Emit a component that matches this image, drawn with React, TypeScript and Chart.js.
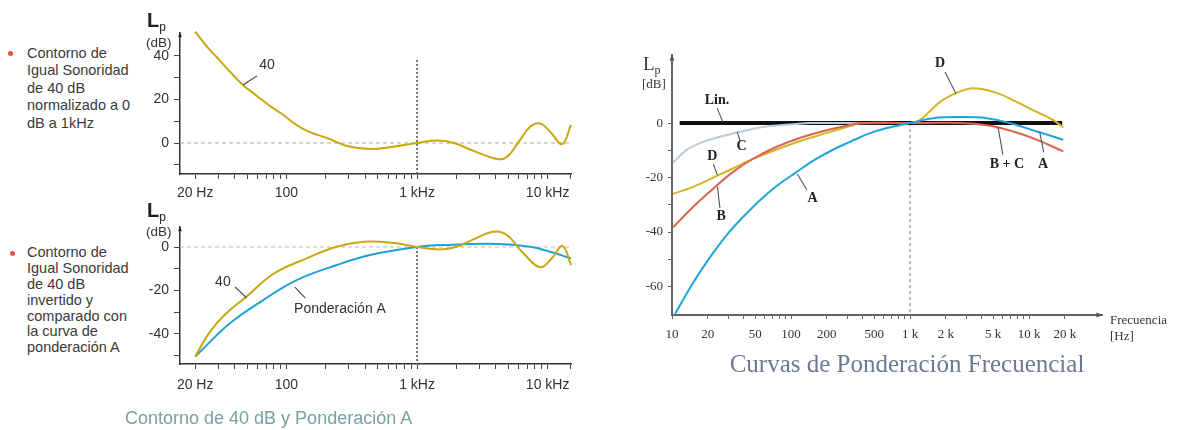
import React, { useEffect, useRef } from 'react';
import { Chart, registerables } from 'chart.js';

Chart.register(...registerables);

// ---------------- Data: top-left (40 dB contour normalised to 0 dB at 1 kHz) ----------------
const contourFreq = [20, 24.6, 29.3, 36.9, 46.4, 59.4, 74.8, 89.2, 134, 216, 291, 436, 655, 1000, 1423, 1888, 2686, 4100, 4894, 6151, 7345, 8765, 10450, 12910, 15100];
const contourDb = [51.2, 44.3, 39.4, 32.8, 26.7, 21.6, 17.0, 14.0, 6.5, 1.7, -1.4, -2.8, -1.7, 0, 1.1, 0.1, -3.5, -7.4, -6.3, 1.4, 7.5, 9.0, 5.2, -0.5, 8.3];

// ---------------- Data: bottom-left (inverted contour vs A weighting) ----------------
const invFreq = [20, 24.5, 29.2, 36.9, 49.5, 79.2, 143, 243, 412, 699, 1000, 1500, 2014, 2700, 3844, 4866, 6528, 8765, 10770, 12980, 15100];
const invDb = [-50.4, -41.2, -35.1, -29.0, -22.8, -12.4, -5.2, 0.1, 2.5, 1.7, 0, -1.1, 0.1, 3.5, 7.0, 5.5, -2.9, -9.3, -5.2, 0.5, -8.3];
const aLeftFreq = [20, 36.9, 66.4, 119.7, 243, 436, 1000, 1590, 4100, 7345, 10450, 15100];
const aLeftDb = [-50.4, -35.1, -24.4, -15.2, -8.3, -3.7, 0, 0.9, 1.4, 0.1, -2.2, -5.2];

// ---------------- Data: right chart (weighting curves) ----------------
const aFreq = [10.6, 15.1, 20.9, 28.8, 39.7, 54.9, 75.8, 112, 154, 227, 313, 461, 641, 1000, 1570, 2630, 4410, 6900, 10900, 19400];
const aDb = [-70, -58.5, -49.2, -41.1, -34.4, -28.3, -23.1, -17.9, -13.8, -9.7, -6.9, -3.7, -1.8, 0, 1.8, 2.2, 1.8, 0, -2.7, -6.1];
const bFreq = [10.2, 15.1, 22.3, 32.6, 48.4, 75.8, 127, 200, 313, 380, 1000, 2630, 4410, 6900, 10900, 19400];
const bDb = [-38.3, -30.7, -24, -17.9, -13, -8.7, -5, -2.6, -0.7, -0.1, 0, 0, -0.8, -2.7, -5.6, -10.4];
const dFreq = [10.2, 15.1, 23.8, 37.3, 45.3, 75.8, 127, 200, 313, 380, 641, 1000, 1210, 1790, 2470, 3400, 5350, 7870, 11600, 16000, 19400];
const dDb = [-26, -23.4, -19.4, -15.4, -13.6, -9.7, -6.2, -3.6, -1.1, -0.1, 0.1, 0, 1.1, 7.8, 11.1, 12.8, 11.1, 7.8, 4.1, 1.1, -1.6];
const cFreq = [10.2, 13.2, 18.3, 28.8, 42.4, 66.6, 105, 145, 400, 1000];
const cDb = [-14.6, -9.9, -6.9, -4.4, -2.6, -1.1, -0.4, 0, 0, 0];
const linFreq = [11.6, 19000];
const linDb = [0, 0];

// reference lines
const refFreq1k = [1000, 1000];

// ---------------- Ticks ----------------
const leftXTicks = [20, 30, 40, 50, 60, 70, 80, 90, 100, 200, 300, 400, 500, 600, 700, 800, 900, 1000, 2000, 3000, 4000, 5000, 6000, 7000, 8000, 9000, 10000, 15000];
const leftXLabelVals = [20, 100, 1000, 10000];
const leftXLabelText = ['20 Hz', '100', '1 kHz', '10 kHz'];
const topYTicks = [-10, 0, 10, 20, 30, 40];
const topYLabels = [0, 20, 40];
const botYTicks = [-50, -40, -30, -20, -10, 0];
const botYLabels = [-40, -20, 0];
const rightXTicks = [10, 20, 30, 40, 50, 60, 70, 80, 90, 100, 200, 300, 400, 500, 600, 700, 800, 900, 1000, 2000, 3000, 4000, 5000, 6000, 7000, 8000, 9000, 10000, 20000];
const rightXLabelVals = [10, 20, 50, 100, 200, 500, 1000, 2000, 5000, 10000, 20000];
const rightXLabelText = ['10', '20', '50', '100', '200', '500', '1 k', '2 k', '5 k', '10 k', '20 k'];
const rightYTicks = [-60, -50, -40, -30, -20, -10, 0];
const rightYLabels = [-60, -40, -20, 0];

// ---------------- Annotations (data coordinates) ----------------
const topNotes = [{ text: '40', f: 70.9, db: 35.9, from: [59.4, 30.8], to: [46.4, 26.7] }];
const botNotes = [
  { text: '40', f: 32.6, db: -16.1, from: [40.4, -18.4], to: [49.6, -23.4] },
  { text: 'Ponderación A', f: 257, db: -28.5, from: [139, -23.4], to: [116, -18.4] },
];
const rightNotes = [
  { text: 'Lin.', f: 23.9, db: 8.4, from: [23.9, 5.5], to: [26.8, 0.4] },
  { text: 'C', f: 38.5, db: -8.7, from: [37.2, -6.2], to: [35.3, -3.2] },
  { text: 'D', f: 21.8, db: -12.4, from: [22.3, -15.2], to: [24.1, -19.1] },
  { text: 'B', f: 25.9, db: -34.1, from: [25.3, -31.3], to: [24.1, -23.4] },
  { text: 'A', f: 152, db: -27.6, from: [136, -24.6], to: [113, -18.7] },
  { text: 'D', f: 1790, db: 22.1, from: [1970, 18.8], to: [2430, 10.9] },
  { text: 'B + C', f: 6530, db: -15, from: [6040, -11.7], to: [5490, -1.5] },
  { text: 'A', f: 13100, db: -15, from: [13300, -10.8], to: [12300, -3.2] },
];

const SANS = 'Arial, "Liberation Sans", sans-serif';
const SERIF = '"Liberation Serif", "Times New Roman", serif';

const pts = (fs: number[], ds: number[]) => fs.map((f, i) => ({ x: f, y: ds[i] }));

const notesPlugin = {
  id: 'notes',
  afterDatasetsDraw(chart: any, _a: any, opts: any) {
    const { ctx, chartArea: ca, scales } = chart;
    const xs = scales.x;
    const ys = scales.y;
    ctx.save();
    ctx.fillStyle = opts.axisColor;
    const s = opts.arrowSize;
    if (opts.arrowY) {
      ctx.beginPath();
      ctx.moveTo(ca.left, ca.top - 1);
      ctx.lineTo(ca.left - s * 0.6, ca.top + s * 1.4);
      ctx.lineTo(ca.left + s * 0.6, ca.top + s * 1.4);
      ctx.closePath();
      ctx.fill();
    }
    if (opts.arrowX) {
      ctx.beginPath();
      ctx.moveTo(ca.right + 1, ca.bottom);
      ctx.lineTo(ca.right - s * 1.4, ca.bottom - s * 0.6);
      ctx.lineTo(ca.right - s * 1.4, ca.bottom + s * 0.6);
      ctx.closePath();
      ctx.fill();
    }
    for (const n of opts.items || []) {
      ctx.strokeStyle = opts.leaderColor;
      ctx.lineWidth = 1.1;
      ctx.beginPath();
      ctx.moveTo(xs.getPixelForValue(n.from[0]), ys.getPixelForValue(n.from[1]));
      ctx.lineTo(xs.getPixelForValue(n.to[0]), ys.getPixelForValue(n.to[1]));
      ctx.stroke();
      ctx.font = opts.font;
      ctx.fillStyle = opts.textColor;
      ctx.textAlign = 'center';
      ctx.textBaseline = 'middle';
      ctx.fillText(n.text, xs.getPixelForValue(n.f), ys.getPixelForValue(n.db));
    }
    ctx.restore();
  },
};

function labelFor(vals: number[], texts: string[]) {
  return (v: any) => {
    const i = vals.indexOf(Number(v));
    return i >= 0 ? texts[i] : '';
  };
}

function styleLines(datasets: any[]) {
  datasets.forEach((d) => {
    d.pointRadius = 0;
    d.fill = false;
    if (d.tension === undefined) d.tension = 0.4;
  });
}

function leftConfig(kind: 'top' | 'bot'): any {
  const isTop = kind === 'top';
  const datasets: any[] = isTop
    ? [
        { data: pts(contourFreq, contourDb), borderColor: '#c9a70e', borderWidth: 2, clip: false },
        { data: pts(refFreq1k, [38.2, -14.25]), borderColor: '#555', borderWidth: 1.6, borderDash: [2, 2], tension: 0 },
        { data: pts([15.3, 15100], [0, 0]), borderColor: '#aaa', borderWidth: 1, borderDash: [4, 3], tension: 0 },
      ]
    : [
        { data: pts(invFreq, invDb), borderColor: '#c9a70e', borderWidth: 2, clip: false },
        { data: pts(aLeftFreq, aLeftDb), borderColor: '#1fa0d8', borderWidth: 2, clip: false },
        { data: pts(refFreq1k, [0, -53.8]), borderColor: '#555', borderWidth: 1.6, borderDash: [2, 2], tension: 0 },
        { data: pts([15.3, 15100], [0, 0]), borderColor: '#bbb', borderWidth: 1, borderDash: [4, 3], tension: 0 },
      ];
  styleLines(datasets);
  const yTicks = isTop ? topYTicks : botYTicks;
  const yLabels = isTop ? topYLabels : botYLabels;
  return {
    type: 'line',
    data: { datasets },
    plugins: [notesPlugin],
    options: {
      animation: false,
      responsive: false,
      maintainAspectRatio: false,
      layout: { padding: { top: isTop ? 33 : 37, right: 19, left: 0, bottom: 0 } },
      plugins: {
        legend: { display: false },
        tooltip: { enabled: false },
        notes: {
          items: isTop ? topNotes : botNotes,
          font: `14px ${SANS}`,
          textColor: '#333',
          leaderColor: '#444',
          axisColor: '#222',
          arrowSize: 3,
          arrowY: true,
          arrowX: false,
        },
      },
      scales: {
        x: {
          type: 'logarithmic',
          min: 15.3,
          max: 15100,
          afterBuildTicks: (s: any) => {
            s.ticks = leftXTicks.map((v) => ({ value: v }));
          },
          afterFit: (s: any) => {
            s.height = isTop ? 26 : 36;
          },
          ticks: {
            autoSkip: false,
            maxRotation: 0,
            minRotation: 0,
            padding: isTop ? 6 : 8,
            color: '#333',
            font: { family: SANS, size: 14 },
            callback: labelFor(leftXLabelVals, leftXLabelText),
          },
          grid: { drawOnChartArea: false, drawTicks: true, tickLength: 5, tickColor: '#444', tickWidth: 1 },
          border: { display: true, color: '#333', width: 1.5 },
        },
        y: {
          type: 'linear',
          min: isTop ? -14.25 : -53.8,
          max: isTop ? 50.57 : 9.2,
          afterBuildTicks: (s: any) => {
            s.ticks = yTicks.map((v) => ({ value: v }));
          },
          afterFit: (s: any) => {
            s.width = 50;
          },
          ticks: {
            padding: 5,
            color: '#333',
            font: { family: SANS, size: 14 },
            callback: (v: any) => (yLabels.includes(Number(v)) ? String(v) : ''),
          },
          grid: { drawOnChartArea: false, drawTicks: true, tickLength: 6, tickColor: '#444', tickWidth: 1 },
          border: { display: true, color: '#333', width: 1.5 },
        },
      },
    },
  };
}

function rightConfig(): any {
  const datasets: any[] = [
    { data: pts(aFreq, aDb), borderColor: '#21a3db', borderWidth: 2 },
    { data: pts(bFreq, bDb), borderColor: '#d9654f', borderWidth: 2 },
    { data: pts(dFreq, dDb), borderColor: '#d2b526', borderWidth: 2 },
    { data: pts(cFreq, cDb), borderColor: '#bccbd6', borderWidth: 2 },
    { data: pts(linFreq, linDb), borderColor: '#111', borderWidth: 4, tension: 0 },
    { data: pts(refFreq1k, [0, -70.46]), borderColor: '#888', borderWidth: 1.2, borderDash: [3, 3], tension: 0 },
  ];
  styleLines(datasets);
  return {
    type: 'line',
    data: { datasets },
    plugins: [notesPlugin],
    options: {
      animation: false,
      responsive: false,
      maintainAspectRatio: false,
      layout: { padding: { top: 15, right: 77, left: 0, bottom: 0 } },
      plugins: {
        legend: { display: false },
        tooltip: { enabled: false },
        notes: {
          items: rightNotes,
          font: `bold 14px ${SERIF}`,
          textColor: '#222',
          leaderColor: '#555',
          axisColor: '#555',
          arrowSize: 4,
          arrowY: true,
          arrowX: true,
        },
      },
      scales: {
        x: {
          type: 'logarithmic',
          min: 10,
          max: 41060,
          afterBuildTicks: (s: any) => {
            s.ticks = rightXTicks.map((v) => ({ value: v }));
          },
          afterFit: (s: any) => {
            s.height = 35;
          },
          ticks: {
            autoSkip: false,
            maxRotation: 0,
            minRotation: 0,
            padding: 8,
            color: '#333',
            font: { family: SERIF, size: 13 },
            callback: labelFor(rightXLabelVals, rightXLabelText),
          },
          grid: { drawOnChartArea: false, drawTicks: true, tickLength: 4, tickColor: '#666', tickWidth: 1 },
          border: { display: true, color: '#666', width: 2 },
        },
        y: {
          type: 'linear',
          min: -70.46,
          max: 25,
          afterBuildTicks: (s: any) => {
            s.ticks = rightYTicks.map((v) => ({ value: v }));
          },
          afterFit: (s: any) => {
            s.width = 52;
          },
          ticks: {
            padding: 5,
            color: '#333',
            font: { family: SERIF, size: 13 },
            callback: (v: any) => (rightYLabels.includes(Number(v)) ? String(v) : ''),
          },
          grid: { drawOnChartArea: false, drawTicks: true, tickLength: 4, tickColor: '#666', tickWidth: 1 },
          border: { display: true, color: '#666', width: 2 },
        },
      },
    },
  };
}

function ChartCanvas({ make, left, top, width, height }: any) {
  const ref = useRef<HTMLCanvasElement | null>(null);
  useEffect(() => {
    const chart = new Chart(ref.current as HTMLCanvasElement, make());
    return () => chart.destroy();
  }, []);
  return (
    <canvas
      ref={ref}
      width={width}
      height={height}
      style={{ position: 'absolute', left, top, width, height }}
    />
  );
}

const abs = (left: number, top: number, extra: any = {}) => ({ position: 'absolute' as const, left, top, ...extra });

export default function App() {
  const bulletText = { fontFamily: SANS, fontSize: 14.5, color: '#3a3a3a', whiteSpace: 'nowrap' as const };
  const dot = { width: 5, height: 5, borderRadius: '50%', background: '#e0553b' };
  return (
    <div style={{ position: 'absolute', left: 0, top: 0, width: 1179, height: 430, background: '#fff', overflow: 'hidden' }}>
      {/* bullets */}
      <div style={abs(8, 51, dot)} />
      <div style={abs(27, 44.5, { ...bulletText, lineHeight: '17.5px' })}>
        Contorno de<br />Igual Sonoridad<br />de 40 dB<br />normalizado a 0<br />dB a 1kHz
      </div>
      <div style={abs(10, 251, dot)} />
      <div style={abs(27, 245.4, { ...bulletText, lineHeight: '15.8px' })}>
        Contorno de<br />Igual Sonoridad<br />de 40 dB<br />invertido y<br />comparado con<br />la curva de<br />ponderación A
      </div>

      {/* left charts */}
      <ChartCanvas make={() => leftConfig('top')} left={130} top={0} width={460} height={200} />
      <ChartCanvas make={() => leftConfig('bot')} left={130} top={190} width={460} height={210} />

      {/* left axis titles */}
      <div style={abs(147, 10, { fontFamily: SANS, fontSize: 20, fontWeight: 'bold', lineHeight: '20px', color: '#222' })}>
        L<span style={{ fontSize: 12, fontWeight: 'normal', position: 'relative', top: 4 }}>p</span>
      </div>
      <div style={abs(146, 35, { fontFamily: SANS, fontSize: 13.5, lineHeight: '16px', color: '#333' })}>(dB)</div>
      <div style={abs(147, 200, { fontFamily: SANS, fontSize: 20, fontWeight: 'bold', lineHeight: '20px', color: '#222' })}>
        L<span style={{ fontSize: 12, fontWeight: 'normal', position: 'relative', top: 4 }}>p</span>
      </div>
      <div style={abs(146, 224, { fontFamily: SANS, fontSize: 13.5, lineHeight: '16px', color: '#333' })}>(dB)</div>

      <div style={abs(125, 407, { fontFamily: SANS, fontSize: 18, lineHeight: '22px', color: '#79a19d', whiteSpace: 'nowrap' })}>
        Contorno de 40 dB y Ponderación A
      </div>

      {/* right chart */}
      <ChartCanvas make={rightConfig} left={620} top={40} width={559} height={310} />
      <div style={abs(643, 54, { fontFamily: SERIF, fontSize: 19, lineHeight: '19px', color: '#333' })}>
        L<span style={{ fontSize: 12, position: 'relative', top: 4 }}>p</span>
      </div>
      <div style={abs(642, 76, { fontFamily: SERIF, fontSize: 13, lineHeight: '16px', color: '#333' })}>[dB]</div>
      <div style={abs(1110, 311.5, { fontFamily: SERIF, fontSize: 13, lineHeight: '15px', color: '#333' })}>Frecuencia</div>
      <div style={abs(1110, 327.5, { fontFamily: SERIF, fontSize: 13, lineHeight: '15px', color: '#333' })}>[Hz]</div>
      <div style={abs(657, 348.6, { width: 500, textAlign: 'center', fontFamily: SERIF, fontSize: 25, lineHeight: '30px', color: '#6e7796', whiteSpace: 'nowrap' })}>
        Curvas de Ponderación Frecuencial
      </div>
    </div>
  );
}
